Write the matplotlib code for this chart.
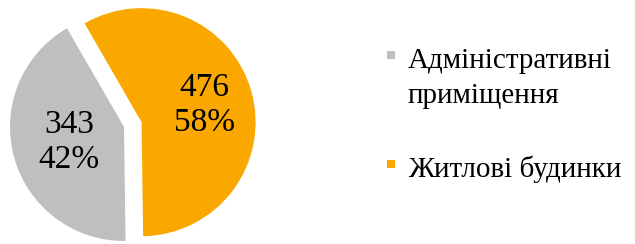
import matplotlib.pyplot as plt
from matplotlib.patches import Rectangle
import numpy as np

# data
categories = ["Житлові будинки", "Адміністративні\nприміщення"]
values = [476, 343]
colors = ["#FAA800", "#BFBFBF"]
explode = [0.16, 0]
legend_order = [1, 0]

plt.rcParams['font.family'] = ['Liberation Serif', 'DejaVu Serif']

W, H = 635, 244
fig = plt.figure(figsize=(W / 100, H / 100), dpi=100)

# pie axes: centre of the pie at (124, 127) px, radius 114 px
R, cx, cy = 114, 124, 127
ax_w = 280
ax = fig.add_axes([0, 0, ax_w / W, 1])

total = sum(values)


def fmt(pct):
    v = int(round(pct * total / 100))
    return f"{v}\n{pct:.0f}%"


wedges, texts, autotexts = ax.pie(
    values, colors=colors, explode=explode, startangle=120,
    counterclock=False, autopct=fmt, pctdistance=0.5,
    textprops=dict(fontsize=24, color="black"),
    wedgeprops=dict(linewidth=0))

# shift label distances a little per slice
label_dist = [0.57, 0.5]
for w, t, d in zip(wedges, autotexts, label_dist):
    mid = np.deg2rad((w.theta1 + w.theta2) / 2)
    x0, y0 = w.center
    t.set_position((x0 + d * np.cos(mid), y0 + d * np.sin(mid)))
    t.set_linespacing(1.2)

ax.set_xlim(-cx / R, (ax_w - cx) / R)
ax.set_ylim(-(H - cy) / R, cy / R)
ax.set_aspect('auto')
ax.axis('off')

# legend drawn by hand
leg_x_marker = 387
leg_x_text = 408
baselines = [68, 177]
marker_tops = [51, 160]
for i, b, mt in zip(legend_order, baselines, marker_tops):
    fig.patches.append(Rectangle((leg_x_marker / W, 1 - (mt + 8) / H), 8 / W, 8 / H,
                                 transform=fig.transFigure, facecolor=colors[i],
                                 edgecolor='none'))
    lines = categories[i].split("\n")
    for k, line in enumerate(lines):
        fig.text(leg_x_text / W, 1 - (b + k * 35) / H, line, fontsize=21,
                 va='baseline', ha='left', color='black')

fig.savefig("out.png", dpi=100)
